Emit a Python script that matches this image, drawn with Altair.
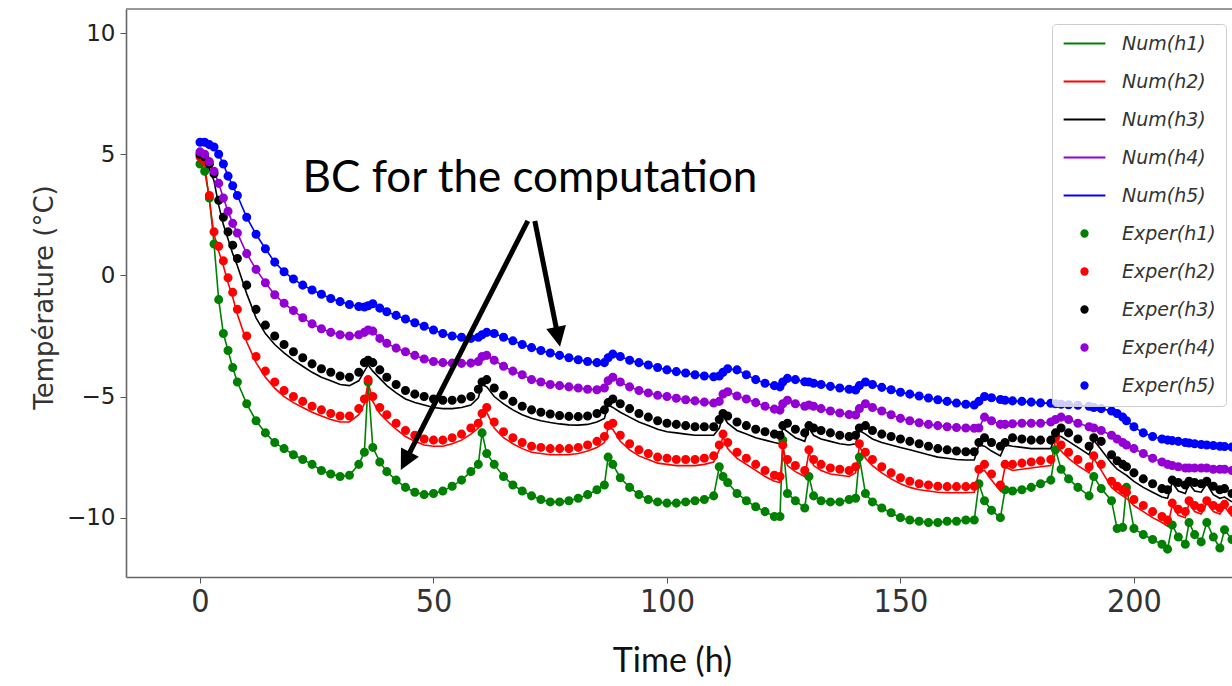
import math
import altair as alt
import pandas as pd

# ---------------- data ----------------
T = [
    0, 1, 2, 3, 4, 5, 6, 7, 8,
    10, 12, 14, 16, 18, 20, 22, 24, 26, 28, 30, 32, 34,
    35.2, 36, 37, 38.5,
    40, 42, 44, 46, 48, 50, 52, 54, 56, 58,
    59.6, 60.4, 61.4,
    63, 65, 67, 69, 71, 73, 75, 77, 79, 81, 83, 85,
    86.6, 87.4, 88.4,
    90, 92, 94, 96, 98, 100, 102, 104, 106, 108, 110,
    111.2, 112, 113,
    115, 117, 119, 121, 123,
    124.2, 124.8, 125.8,
    127.5, 129.5,
    130.4, 131.4,
    133, 135, 137, 139,
    140.4, 141.2, 142.5,
    144, 146, 148, 150, 152, 154, 156, 158, 160, 162, 164,
    165.8, 166.8, 168, 169.5,
    171.4, 172.4,
    174, 176, 178, 180,
    182.2, 183.2, 184.4,
    186, 188,
    190.4, 191.4, 193,
    195.2, 196.4, 197.6, 198.4,
    200, 202, 204, 206,
    207.2, 208.2, 209.5,
    211, 211.8, 213,
    214.4, 215.6, 217,
    218.4, 219.4, 221,
]

EXP_H1 = [
    4.6, 4.3, 3.2, 1.3, -1.0, -2.4, -3.1, -3.8, -4.4,
    -5.3, -6.0, -6.5, -6.9, -7.15, -7.4, -7.6, -7.8, -8.05, -8.2, -8.3, -8.25, -7.8,
    -7.3, -4.4, -7.1, -7.7,
    -8.1, -8.45, -8.75, -8.95, -9.05, -9.0, -8.9, -8.7, -8.45, -8.1,
    -7.8, -6.5, -7.35,
    -7.8, -8.3, -8.65, -8.9, -9.1, -9.25, -9.35, -9.35, -9.3, -9.2, -9.05, -8.85,
    -8.65, -7.5, -7.8,
    -8.35, -8.75, -9.05, -9.25, -9.35, -9.4, -9.4, -9.35, -9.3, -9.25, -9.1,
    -7.9, -8.3, -8.55,
    -9.0, -9.3, -9.55, -9.75, -9.95,
    -9.95, -6.8, -9.0,
    -9.3, -9.6,
    -8.3, -9.1,
    -9.3, -9.35, -9.35, -9.25,
    -9.2, -7.5, -9.0,
    -9.35, -9.6, -9.8, -10.0, -10.1, -10.15, -10.2, -10.2, -10.15, -10.15, -10.1,
    -10.1, -8.6, -9.3, -9.7,
    -10.0, -8.85,
    -8.9, -8.85, -8.75, -8.6,
    -8.45, -7.2, -8.0,
    -8.4, -8.75,
    -9.1, -8.3, -8.8,
    -9.3, -10.45, -10.4, -8.75,
    -10.45, -10.7, -10.9, -11.1,
    -11.3, -10.3, -10.8,
    -11.1, -10.2, -10.7,
    -11.0, -10.2, -10.8,
    -11.25, -10.5, -10.9,
]

EXP_H2 = [
    4.9, 4.7, 3.3, 1.8, 1.2, 0.6, -0.1, -0.7, -1.4,
    -2.5, -3.35, -3.95, -4.4, -4.75, -5.0, -5.2, -5.4, -5.55, -5.7, -5.8, -5.8, -5.5,
    -5.1, -4.3, -5.0, -5.45,
    -5.75, -6.1, -6.4, -6.6, -6.75, -6.8, -6.8, -6.7, -6.55, -6.3,
    -6.1, -5.7, -5.45,
    -6.05, -6.45, -6.7, -6.9, -7.05, -7.1, -7.15, -7.15, -7.15, -7.1, -7.0, -6.85,
    -6.65, -6.2, -6.1,
    -6.6, -6.95, -7.2, -7.35, -7.5, -7.55, -7.6, -7.6, -7.6, -7.55, -7.45,
    -7.0, -6.55, -6.9,
    -7.3, -7.55, -7.8, -8.05, -8.25,
    -8.3, -7.0, -7.6,
    -7.85, -8.05,
    -7.2, -7.6,
    -7.8, -7.95, -8.0, -8.05,
    -7.9, -6.95, -7.3,
    -7.6, -7.9, -8.15, -8.35, -8.5, -8.6, -8.65, -8.7, -8.72, -8.72, -8.72,
    -8.7, -8.0, -7.8, -8.2,
    -8.65, -7.8,
    -7.8, -7.75, -7.7, -7.65,
    -7.6, -6.7, -7.0,
    -7.3, -7.6,
    -7.9, -7.45, -7.8,
    -8.5, -8.7, -8.85, -8.95,
    -9.25, -9.5, -9.75, -9.95,
    -10.1, -9.4, -9.65,
    -9.75, -9.3, -9.5,
    -9.6, -9.3, -9.5,
    -9.6, -9.45, -9.7,
]

EXP_H3 = [
    5.0, 4.9, 4.6, 4.2, 3.1, 2.4, 1.8, 1.25, 0.7,
    -0.4, -1.4, -2.05, -2.5, -2.85, -3.15, -3.4, -3.65, -3.85, -4.0, -4.15, -4.2, -4.0,
    -3.6, -3.5, -3.6, -3.9,
    -4.2, -4.5, -4.75, -4.9, -5.0, -5.1, -5.15, -5.15, -5.1, -5.0,
    -4.7, -4.4, -4.3,
    -4.65, -4.95, -5.2, -5.4, -5.55, -5.65, -5.72, -5.78, -5.82, -5.83, -5.8, -5.7,
    -5.55, -5.25, -5.1,
    -5.3, -5.5, -5.7, -5.85, -6.0, -6.1, -6.15, -6.2, -6.25, -6.25, -6.25,
    -5.95, -5.7, -5.8,
    -6.05, -6.2, -6.35, -6.45, -6.55,
    -6.6, -6.2, -6.1,
    -6.35, -6.5,
    -6.2, -6.3,
    -6.4, -6.5, -6.6, -6.65,
    -6.6, -6.3, -6.2,
    -6.4, -6.55, -6.65, -6.75, -6.85, -6.95, -7.05, -7.15, -7.2, -7.25, -7.28,
    -7.28, -6.9, -6.7, -6.9,
    -7.05, -6.9,
    -6.7, -6.75, -6.8, -6.8,
    -6.8, -6.5, -6.3,
    -6.5, -6.75,
    -7.05, -6.7, -6.85,
    -7.4, -7.65, -7.8, -7.9,
    -8.15, -8.4, -8.6, -8.8,
    -8.85, -8.45, -8.55,
    -8.65, -8.5, -8.55,
    -8.6, -8.5, -8.7,
    -8.85, -8.8, -9.0,
]

EXP_H4 = [
    5.1, 5.0, 4.7, 4.3, 3.8, 3.2, 2.65, 2.15, 1.75,
    0.9, 0.25, -0.3, -0.8, -1.15, -1.45, -1.75, -2.0, -2.2, -2.35, -2.45, -2.5, -2.45,
    -2.35, -2.25, -2.3, -2.6,
    -2.8, -3.0, -3.15, -3.3, -3.45, -3.55, -3.6, -3.62, -3.63, -3.62,
    -3.55, -3.35, -3.3,
    -3.5, -3.75, -3.95, -4.1, -4.3, -4.4, -4.5, -4.55, -4.6, -4.65, -4.7, -4.72,
    -4.65, -4.35, -4.2,
    -4.4, -4.6, -4.75, -4.85, -4.95, -5.0, -5.07, -5.13, -5.18, -5.23, -5.27,
    -5.2, -4.9, -4.8,
    -4.98, -5.1, -5.25, -5.4, -5.52,
    -5.56, -5.3, -5.15,
    -5.3, -5.4,
    -5.35, -5.4,
    -5.5, -5.6, -5.68, -5.74,
    -5.76, -5.5, -5.3,
    -5.45, -5.6, -5.75, -5.9, -6.0, -6.08, -6.15, -6.2, -6.25, -6.28, -6.3,
    -6.31, -6.3, -5.85, -6.0,
    -6.15, -6.15,
    -6.12, -6.1, -6.1, -6.1,
    -6.05, -5.95, -5.85,
    -5.95, -6.1,
    -6.25, -6.3, -6.4,
    -6.6, -6.75, -6.9, -7.0,
    -7.15, -7.35, -7.55, -7.7,
    -7.8, -7.85, -7.9,
    -7.95, -7.95, -7.95,
    -7.95, -7.95, -8.0,
    -8.0, -8.0, -8.05,
]

EXP_H5 = [
    5.5, 5.5, 5.4, 5.3, 5.0, 4.6, 4.1, 3.7, 3.3,
    2.4, 1.7, 1.1, 0.55, 0.15, -0.15, -0.4, -0.6, -0.78, -0.95, -1.08, -1.2, -1.28,
    -1.3, -1.25, -1.17, -1.35,
    -1.5, -1.65, -1.8, -1.95, -2.1, -2.25, -2.4, -2.5, -2.55, -2.6,
    -2.55, -2.45, -2.35,
    -2.4, -2.55, -2.7, -2.85, -2.98, -3.1, -3.2, -3.3, -3.4, -3.48, -3.55, -3.6,
    -3.6, -3.4, -3.25,
    -3.35, -3.5, -3.6, -3.7, -3.8, -3.9, -3.97, -4.03, -4.1, -4.15, -4.18,
    -4.15, -4.0, -3.85,
    -3.9, -4.1, -4.3, -4.45, -4.55,
    -4.6, -4.4, -4.25,
    -4.3, -4.39,
    -4.4, -4.45,
    -4.5, -4.58, -4.65, -4.7,
    -4.73, -4.55, -4.4,
    -4.5, -4.62, -4.72, -4.82, -4.9, -4.98, -5.06, -5.13, -5.2, -5.27, -5.32,
    -5.35, -5.2, -5.0, -5.05,
    -5.12, -5.15,
    -5.18, -5.2, -5.23, -5.26,
    -5.28, -5.3, -5.32,
    -5.34, -5.36,
    -5.4, -5.45, -5.5,
    -5.6, -5.7, -5.85, -6.0,
    -6.25, -6.5, -6.65, -6.75,
    -6.8, -6.82, -6.85,
    -6.9, -6.92, -6.95,
    -6.98, -7.0, -7.02,
    -7.05, -7.06, -7.08,
]

NUM_H2 = [
    4.9, 4.6, 3.1, 1.7, 1.0, 0.4, -0.3, -0.9, -1.6,
    -2.75, -3.6, -4.2, -4.65, -5.0, -5.25, -5.45, -5.65, -5.8, -5.95, -6.05, -6.05, -5.75,
    -5.3, -4.4, -5.2, -5.7,
    -6.0, -6.35, -6.65, -6.85, -7.0, -7.05, -7.05, -6.95, -6.8, -6.55,
    -6.3, -5.7, -5.65,
    -6.3, -6.7, -6.95, -7.15, -7.3, -7.35, -7.4, -7.4, -7.4, -7.35, -7.25, -7.1,
    -6.9, -6.3, -6.35,
    -6.85, -7.2, -7.45, -7.6, -7.75, -7.8, -7.85, -7.85, -7.85, -7.8, -7.7,
    -7.2, -6.65, -7.15,
    -7.55, -7.8, -8.05, -8.3, -8.5,
    -8.55, -7.1, -7.85,
    -8.1, -8.3,
    -7.3, -7.85,
    -8.05, -8.2, -8.25, -8.3,
    -8.15, -7.05, -7.55,
    -7.85, -8.15, -8.4, -8.6, -8.75, -8.85, -8.9, -8.95, -8.97, -8.97, -8.97,
    -8.95, -8.1, -8.05, -8.45,
    -8.9, -7.9,
    -8.05, -8.0, -7.95, -7.9,
    -7.85, -6.8, -7.25,
    -7.55, -7.85,
    -8.15, -7.55, -8.05,
    -8.75, -8.95, -9.1, -9.2,
    -9.5, -9.75, -10.0, -10.2,
    -10.35, -9.5, -9.9,
    -10.0, -9.4, -9.75,
    -9.85, -9.4, -9.75,
    -9.85, -9.55, -9.95,
]

NUM_H3 = [
    5.0, 4.8, 4.4, 3.9, 2.9, 2.1, 1.5, 0.9, 0.4,
    -0.75, -1.75, -2.4, -2.85, -3.2, -3.5, -3.75, -4.0, -4.2, -4.35, -4.5, -4.55, -4.35,
    -3.95, -3.7, -3.95, -4.25,
    -4.55, -4.85, -5.1, -5.25, -5.35, -5.45, -5.5, -5.5, -5.45, -5.35,
    -5.05, -4.5, -4.6,
    -5.0, -5.3, -5.55, -5.75, -5.9, -6.0, -6.07, -6.13, -6.17, -6.18, -6.15, -6.05,
    -5.9, -5.35, -5.45,
    -5.65, -5.85, -6.05, -6.2, -6.35, -6.45, -6.5, -6.55, -6.6, -6.6, -6.6,
    -6.3, -5.8, -6.1,
    -6.4, -6.55, -6.7, -6.8, -6.9,
    -6.95, -6.3, -6.45,
    -6.7, -6.85,
    -6.3, -6.6,
    -6.75, -6.85, -6.95, -7.0,
    -6.95, -6.4, -6.55,
    -6.75, -6.9, -7.0, -7.1, -7.2, -7.3, -7.4, -7.5, -7.55, -7.6, -7.62,
    -7.62, -7.0, -7.05, -7.25,
    -7.45, -7.0,
    -7.05, -7.1, -7.15, -7.15,
    -7.15, -6.6, -6.65,
    -6.85, -7.1,
    -7.4, -6.8, -7.2,
    -7.75, -8.0, -8.15, -8.25,
    -8.5, -8.75, -8.95, -9.15,
    -9.2, -8.55, -8.9,
    -9.0, -8.6, -8.9,
    -8.95, -8.6, -9.05,
    -9.2, -9.15, -9.35,
]

SERIES = ["Num(h1)", "Num(h2)", "Num(h3)", "Num(h4)", "Num(h5)",
          "Exper(h1)", "Exper(h2)", "Exper(h3)", "Exper(h4)", "Exper(h5)"]
BASE_COLORS = ["#008000", "#ff0000", "#000000", "#9400d3", "#0000ff"]
COLORS = BASE_COLORS + BASE_COLORS

# annotation: text anchor and arrows (data units)
NOTE_TEXT = ["BC for the computation"]
NOTE_T = [70.66]
NOTE_V = [3.44]
ARROW_START_T = [70.2, 71.7]
ARROW_START_V = [2.25, 2.25]
ARROW_TIP_T = [43.0, 77.1]
ARROW_TIP_V = [-8.03, -2.94]

# ---------------- tables ----------------
num_values = {"Num(h1)": EXP_H1, "Num(h2)": NUM_H2, "Num(h3)": NUM_H3,
              "Num(h4)": EXP_H4, "Num(h5)": EXP_H5}
exp_values = {"Exper(h1)": EXP_H1, "Exper(h2)": EXP_H2, "Exper(h3)": EXP_H3,
              "Exper(h4)": EXP_H4, "Exper(h5)": EXP_H5}


def build(d):
    rows = []
    for name, vals in d.items():
        if len(vals) != len(T):
            raise ValueError(f"{name}: {len(vals)} values vs {len(T)} times")
        for t, v in zip(T, vals):
            rows.append({"t": t, "temp": v, "series": name})
    return pd.DataFrame(rows)


num_df = build(num_values)
exp_df = build(exp_values)

# ---------------- geometry ----------------
W, H = 1106, 568
X_DOM = [-15.85, 221.0]
Y_DOM = [-12.45, 11.0]
SX = W / (X_DOM[1] - X_DOM[0])
SY = H / (Y_DOM[1] - Y_DOM[0])

shaft_rows, head_rows = [], []
for ts, vs, tt, vt in zip(ARROW_START_T, ARROW_START_V, ARROW_TIP_T, ARROW_TIP_V):
    dx = (tt - ts) * SX
    dy = -(vt - vs) * SY
    L = math.hypot(dx, dy)
    ux, uy = dx / L, dy / L
    back = 12.0
    t_end = tt - back * ux / SX
    v_end = vt + back * uy / SY
    ang = math.degrees(math.atan2(dx, -dy)) % 360
    shaft_rows.append({"t": ts, "temp": vs, "t2": t_end, "temp2": v_end})
    head_rows.append({"t": tt, "temp": vt, "angle": ang})

shaft_df = pd.DataFrame(shaft_rows)
head_df = pd.DataFrame(head_rows)
note_df = pd.DataFrame({"t": NOTE_T, "temp": NOTE_V, "label": NOTE_TEXT})

# ---------------- encodings ----------------
x_scale = alt.Scale(domain=X_DOM, nice=False, zero=False)
y_scale = alt.Scale(domain=Y_DOM, nice=False, zero=False)

x_axis = alt.Axis(
    values=[0, 50, 100, 150, 200], grid=False, tickSize=6, tickColor="#555555",
    domainColor="#666666", domainWidth=1.6, labelFlush=False,
    labelFont="Liberation Sans Narrow, DejaVu Sans Condensed, Liberation Sans, sans-serif",
    labelFontSize=32, labelColor="#333333", labelPadding=3,
    title="Time (h)", titleFont="Lato", titleFontSize=34, titleFontWeight="normal",
    titleColor="#111111", titleX=546, titleY=84, titleAlign="center", titleBaseline="middle",
)
y_axis = alt.Axis(
    values=[-10, -5, 0, 5, 10], grid=False, tickSize=6, tickColor="#555555",
    domainColor="#666666", domainWidth=1.6, labelFlush=False,
    labelFont="DejaVu Sans", labelFontSize=23, labelColor="#222222", labelPadding=5,
    title="Température (°C)", titleFont="DejaVu Sans", titleFontSize=26,
    titleFontWeight="normal", titleColor="#333333", titleAngle=270,
    titleX=-82, titleY=288, titleAlign="center", titleBaseline="middle",
)

x_enc = alt.X("t:Q", scale=x_scale, axis=x_axis)
y_enc = alt.Y("temp:Q", scale=y_scale, axis=y_axis)

LINE_PATH = "M-6.6,0L6.6,0"
color_scale = alt.Scale(domain=SERIES, range=COLORS)
shape_scale = alt.Scale(domain=SERIES, range=[LINE_PATH] * 5 + ["circle"] * 5)

leg = alt.Legend(title=None)

lines = alt.Chart(num_df).mark_line(strokeWidth=1.6, clip=True).encode(
    x=x_enc, y=y_enc,
    stroke=alt.Stroke("series:N", scale=color_scale, legend=leg),
)

points = alt.Chart(exp_df).mark_point(
    filled=True, size=50, strokeWidth=2, opacity=1, clip=True
).encode(
    x=x_enc, y=y_enc,
    fill=alt.Fill("series:N", scale=color_scale, legend=leg),
    stroke=alt.Stroke("series:N", scale=color_scale, legend=leg),
    shape=alt.Shape("series:N", scale=shape_scale, legend=leg),
)

border = alt.Chart(pd.DataFrame({"k": [0]})).mark_rule(
    color="#777777", strokeWidth=1.6
).encode(x=alt.value(0), x2=alt.value(W), y=alt.value(0))

note = alt.Chart(note_df).mark_text(
    font="Lato", fontSize=44, align="center", baseline="alphabetic", color="black"
).encode(x=x_enc, y=y_enc, text="label:N")

shafts = alt.Chart(shaft_df).mark_rule(
    color="black", strokeWidth=5, strokeCap="butt"
).encode(x=x_enc, y=y_enc, x2="t2:Q", y2="temp2:Q")

heads = alt.Chart(head_df).mark_point(
    shape="M0,0L-1,2L1,2Z", filled=True, size=400, color="black", opacity=1,
    strokeWidth=0
).encode(x=x_enc, y=y_enc, angle=alt.Angle("angle:Q", scale=None))

chart = alt.layer(lines, points, border, note, shafts, heads).properties(
    width=W, height=H,
    padding={"left": 126, "top": 9, "right": 0, "bottom": 100},
    autosize=alt.AutoSizeParams(type="none"),
    background="white",
).configure_view(
    strokeWidth=0
).configure_legend(
    orient="none", legendX=926, legendY=15, padding=10,
    rowPadding=18, symbolSize=40, symbolStrokeWidth=2, symbolOffset=13,
    labelOffset=28, labelFont="DejaVu Sans", labelFontStyle="italic",
    labelFontSize=19, labelColor="#333333", fillColor="rgba(255,255,255,0.8)",
    strokeColor="#cccccc", cornerRadius=4, zindex=1,
)

chart.save("out.html", embed_options={"renderer": "svg", "actions": False})
